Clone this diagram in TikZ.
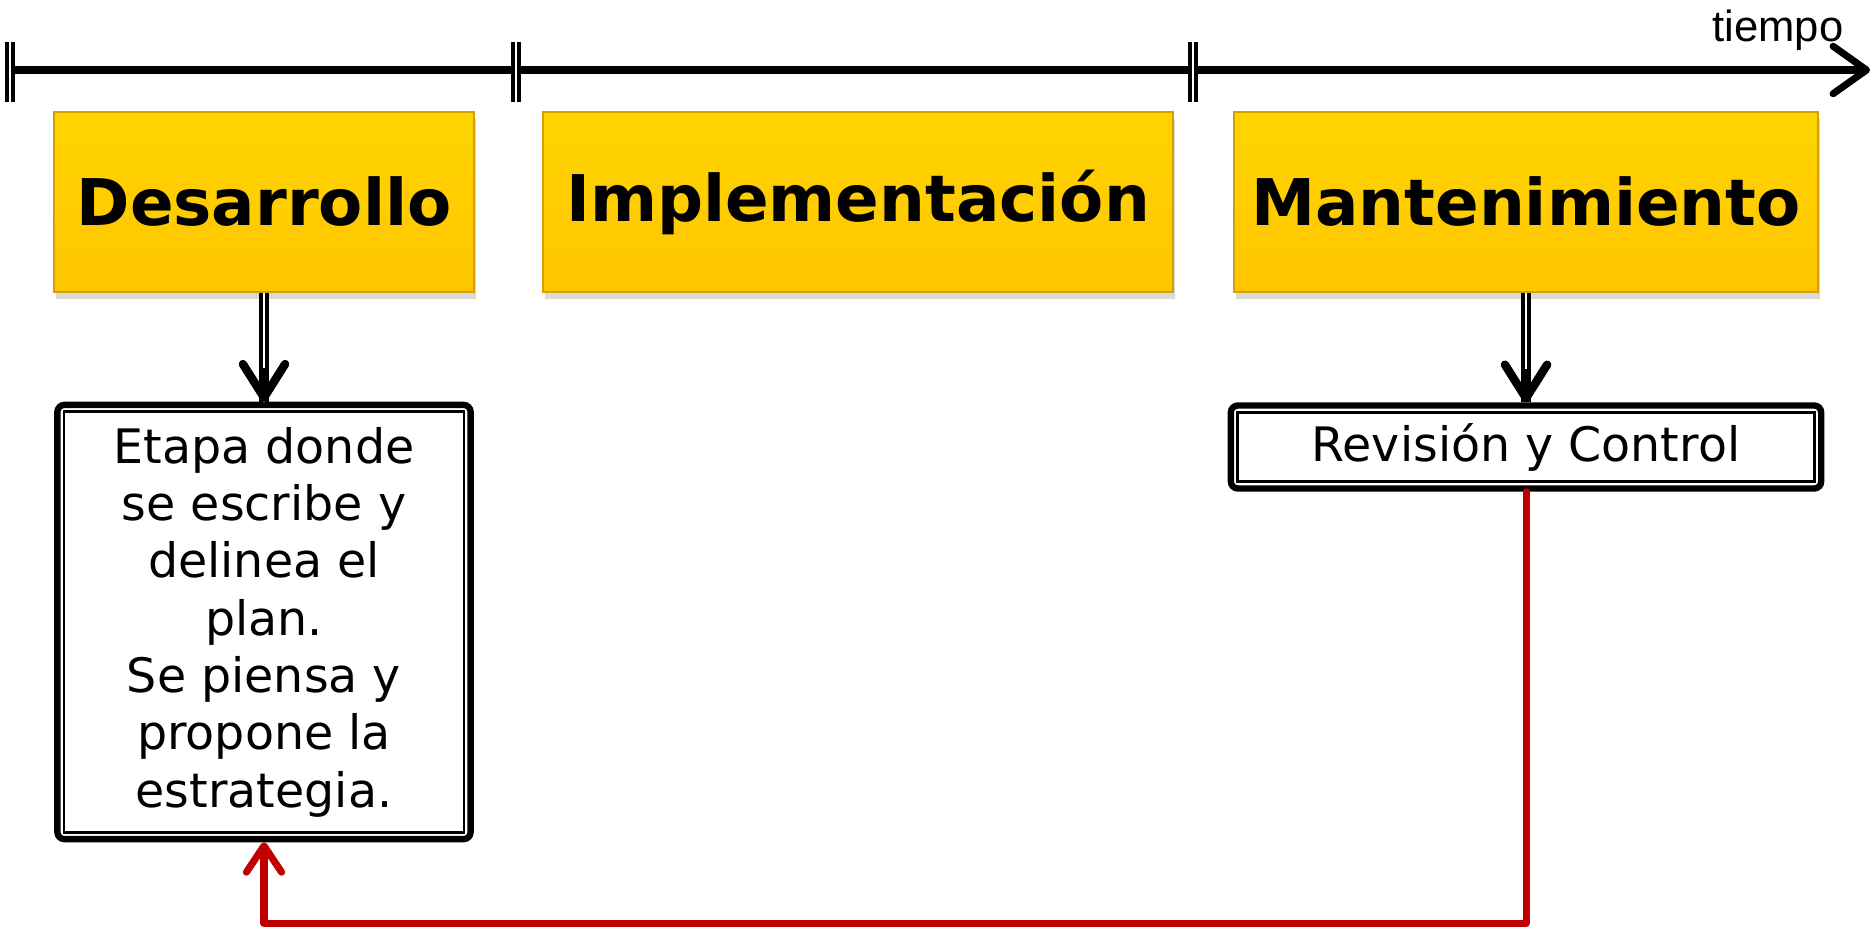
\documentclass[tikz,border=0pt]{standalone}
\usepackage{fontspec}
\setmainfont{DejaVu Sans}
\newfontfamily\arialfont{Liberation Sans}
\usetikzlibrary{arrows.meta,shadows}
\definecolor{phasefill}{RGB}{255,198,0}
\definecolor{phasetop}{RGB}{255,212,0}
\definecolor{phaseedge}{RGB}{214,160,0}
\definecolor{loopred}{RGB}{192,0,0}

\begin{document}
\begin{tikzpicture}[x=0.01cm,y=-0.01cm,
    phase/.style={top color=phasetop,bottom color=phasefill,draw=phaseedge,line width=0.5pt,
        minimum height=1.8cm,inner sep=0pt,font=\bfseries\fontsize{18.3}{21}\selectfont,
        drop shadow={shadow xshift=0.5pt,shadow yshift=-2pt,opacity=0.3}},
    note/.style={draw,line width=1.8pt,rounded corners=2pt,fill=white,inner sep=0pt,
        align=center,font=\fontsize{13.5}{16.3}\selectfont},
    axis/.style={line width=2pt,-{Straight Barb[length=9.5pt,width=13.5pt,line cap=round,line join=round]}},
    tick/.style={line width=1.1pt,double=white,double distance=0.5pt},
    stem/.style={line width=1.3pt,double=white,double distance=0.4pt},
    head/.style={line width=2.4pt,-{Straight Barb[length=9.5pt,width=12pt,line cap=round,line join=round]}},
    back/.style={loopred,line width=2pt,line cap=round,line join=round,
        -{Straight Barb[length=7.5pt,width=10pt,line cap=round,line join=round]}}]
    \useasboundingbox (0,0) rectangle (1874,930);

    % time axis
    \coordinate (t0) at (10,70);
    \coordinate (t1) at (516,70);
    \coordinate (t2) at (1193,70);
    \coordinate (tend) at (1870,70);
    \draw[axis] (t0) -- (tend);
    \foreach \t in {t0,t1,t2} {
        \draw[tick] ([yshift=8pt]\t) -- ([yshift=-9pt]\t);
    }
    \node[font=\arialfont\fontsize{12.4}{14}\selectfont,anchor=base east,inner sep=0pt] (lbl) at (1844,41) {tiempo};

    % phases
    \node[phase,minimum width=4.2cm] (des) at (264,202) {Desarrollo};
    \node[phase,minimum width=6.3cm] (imp) at (858,202) {Implementación};
    \node[phase,minimum width=5.84cm] (man) at (1526,202) {Mantenimiento};

    % notes
    \node[note,minimum width=4.13cm,minimum height=4.34cm] (etapa) at (264,622)
        {Etapa donde\\se escribe y\\delinea el\\plan.\\Se piensa y\\propone la\\estrategia.};
    \node[note,minimum width=5.9cm,minimum height=0.83cm] (revi) at (1526,447) {Revisión y Control};
    \foreach \n in {etapa,revi} {
        \draw[line width=0.7pt] ([shift={(10,10)}]\n.north west) rectangle ([shift={(-10,-10)}]\n.south east);
    }

    % links
    \draw[stem] (des.south) -- (etapa.north);
    \draw[head] ([yshift=9.5pt]etapa.north) -- (etapa.north);
    \draw[stem] (man.south) -- (revi.north);
    \draw[head] ([yshift=9.5pt]revi.north) -- (revi.north);
    \draw[back] (revi.south) -- (revi.south |- 0,923) -| (etapa.south);
\end{tikzpicture}
\end{document}
